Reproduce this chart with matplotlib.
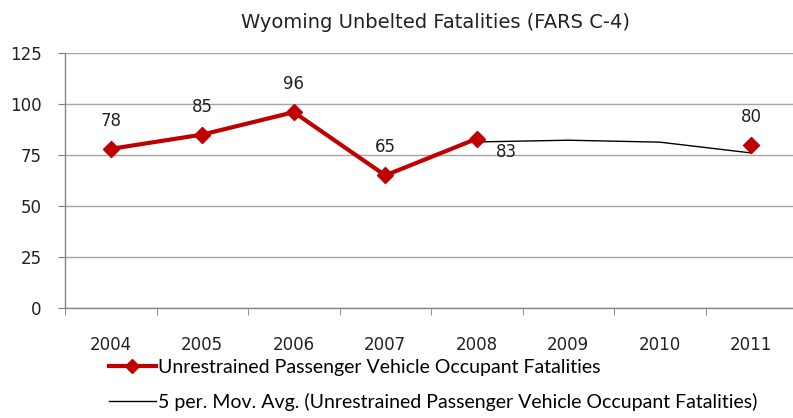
import numpy as np
import matplotlib
matplotlib.use("Agg")
import matplotlib.pyplot as plt
from matplotlib.lines import Line2D

# data
years = ["2004", "2005", "2006", "2007", "2008", "2009", "2010", "2011"]
fatalities = [78, 85, 96, 65, 83, None, None, 80]
mov_avg_years = ["2008", "2009", "2010", "2011"]
mov_avg = [81.4, 82.25, 81.3, 76.0]

red = "#C00000"
grid_col = "#A6A6A6"

fig = plt.figure(figsize=(7.93, 4.18), dpi=100)
ax = fig.add_axes([65 / 793, 110 / 418, 728 / 793, 255 / 418])

x = np.arange(len(years))
y = np.array([np.nan if v is None else v for v in fatalities], dtype=float)

# moving average (black thin)
xm = [years.index(yr) for yr in mov_avg_years]
ax.plot(xm, mov_avg, color="black", lw=1.0, zorder=2)

# main series, gap where data is missing
ax.plot(x, y, color=red, lw=3, marker="D", markersize=8, zorder=3)

# data labels
offsets = {"2008": (30, -13)}
for i, v in enumerate(fatalities):
    if v is None:
        continue
    dx, dy = offsets.get(years[i], (0, 28))
    ax.annotate(str(v), (x[i], v), xytext=(dx, dy), textcoords="offset pixels",
                ha="center", va="center", fontsize=12, color="#222222")

ax.set_ylim(0, 125)
ax.set_yticks([0, 25, 50, 75, 100, 125])
ax.set_xlim(-0.5, 7.456)
ax.set_xticks(x)
ax.set_xticklabels(years)
ax.set_xticks(np.arange(-0.5, 7.5, 1), minor=True)
ax.tick_params(axis="x", which="major", length=0, pad=20, labelsize=12, colors="#222222")
ax.tick_params(axis="x", which="minor", length=5, color="#7F7F7F", direction="out")
ax.tick_params(axis="y", length=5, labelsize=12, pad=12, colors="#7F7F7F", labelcolor="#222222")

ax.yaxis.grid(True, color=grid_col, lw=1)
ax.set_axisbelow(True)
for s in ["top", "right"]:
    ax.spines[s].set_visible(False)
for s in ["left", "bottom"]:
    ax.spines[s].set_color("#868686")
    ax.spines[s].set_linewidth(1)

fig.text(435 / 793, 1 - 22 / 418, "Wyoming Unbelted Fatalities (FARS C-4)",
         ha="center", va="center", fontsize=14, color="#222222")

handles = [
    Line2D([], [], color=red, lw=3, marker="D", markersize=7),
    Line2D([], [], color="black", lw=1),
]
labels = [
    "Unrestrained Passenger Vehicle Occupant Fatalities",
    "5 per. Mov. Avg. (Unrestrained Passenger Vehicle Occupant Fatalities)",
]
fig.legend(handles, labels, loc="upper left", bbox_to_anchor=(109 / 793, 1 - 359 / 418),
           frameon=False, prop={"family": "Lato", "size": 14}, handlelength=2.4,
           handletextpad=0.12, labelspacing=0.85, borderpad=0, borderaxespad=0)

fig.savefig("out.png", dpi=100)
